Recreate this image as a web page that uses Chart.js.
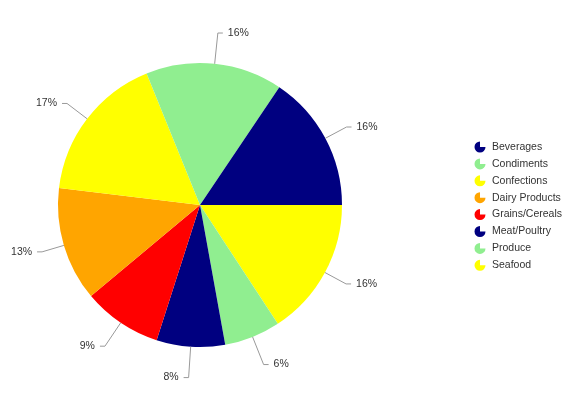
<!DOCTYPE html>
<html>
<head>
<meta charset="utf-8">
<script src="https://cdn.jsdelivr.net/npm/chart.js@4/dist/chart.umd.min.js"></script>
<style>
  body { margin: 0; background: #fff; }
  canvas { display: block; }
</style>
</head>
<body>
<canvas id="pie" width="579" height="414"></canvas>
<script>
const categories = ["Beverages", "Condiments", "Confections", "Dairy Products", "Grains/Cereals", "Meat/Poultry", "Produce", "Seafood"];
const shares = [15.6, 15.6, 17.0, 13.0, 9.0, 7.8, 6.4, 15.8];
const colors = ["#000080", "#90EE90", "#FFFF00", "#FFA500", "#FF0000", "#000080", "#90EE90", "#FFFF00"];

// the pie runs clockwise from 3 o'clock starting with the last category
const drawOrder = categories.map((c, i) => i).reverse();
const total = shares.reduce((a, b) => a + b, 0);

const labelFont = '10.5px "Liberation Sans", Arial, sans-serif';

const sliceLabels = {
  id: "sliceLabels",
  afterDraw(chart) {
    const ctx = chart.ctx;
    const meta = chart.getDatasetMeta(0);
    ctx.save();
    ctx.font = labelFont;
    ctx.textBaseline = "middle";
    meta.data.forEach((arc, k) => {
      const p = arc.getProps(["x", "y", "startAngle", "endAngle", "outerRadius"], true);
      const mid = (p.startAngle + p.endAngle) / 2;
      const cos = Math.cos(mid), sin = Math.sin(mid);
      const x0 = p.x + p.outerRadius * cos, y0 = p.y + p.outerRadius * sin;
      const r1 = p.outerRadius + 22 + 9 * sin * sin;
      const x1 = p.x + r1 * cos, y1 = p.y + r1 * sin;
      const dir = cos >= 0 ? 1 : -1;
      const x2 = x1 + dir * 5;
      ctx.strokeStyle = "#999";
      ctx.lineWidth = 1;
      ctx.beginPath();
      ctx.moveTo(x0, y0);
      ctx.lineTo(x1, y1);
      ctx.lineTo(x2, y1);
      ctx.stroke();
      const i = drawOrder[k];
      const pct = Math.round(shares[i] / total * 100) + "%";
      ctx.fillStyle = "#333";
      ctx.textAlign = dir > 0 ? "left" : "right";
      ctx.fillText(pct, x2 + dir * 5, y1);
    });
    ctx.restore();
  }
};

const sideLegend = {
  id: "sideLegend",
  afterDraw(chart) {
    const ctx = chart.ctx;
    ctx.save();
    ctx.font = labelFont;
    ctx.textBaseline = "middle";
    ctx.textAlign = "left";
    categories.forEach((name, i) => {
      const y = 147 + i * 16.9;
      const x = 480;
      ctx.fillStyle = colors[i];
      ctx.beginPath();
      ctx.moveTo(x, y);
      ctx.arc(x, y, 5.5, 0, Math.PI * 1.5);
      ctx.closePath();
      ctx.fill();
      ctx.fillStyle = "#333";
      ctx.fillText(name, 492, y);
    });
    ctx.restore();
  }
};

new Chart(document.getElementById("pie"), {
  type: "pie",
  data: {
    labels: drawOrder.map(i => categories[i]),
    datasets: [{
      data: drawOrder.map(i => shares[i]),
      backgroundColor: drawOrder.map(i => colors[i]),
      borderWidth: 0
    }]
  },
  options: {
    responsive: false,
    animation: false,
    rotation: 90,
    layout: { padding: { left: 58, right: 237, top: 63, bottom: 67 } },
    plugins: {
      legend: { display: false },
      tooltip: { enabled: false }
    }
  },
  plugins: [sliceLabels, sideLegend]
});
</script>
</body>
</html>
